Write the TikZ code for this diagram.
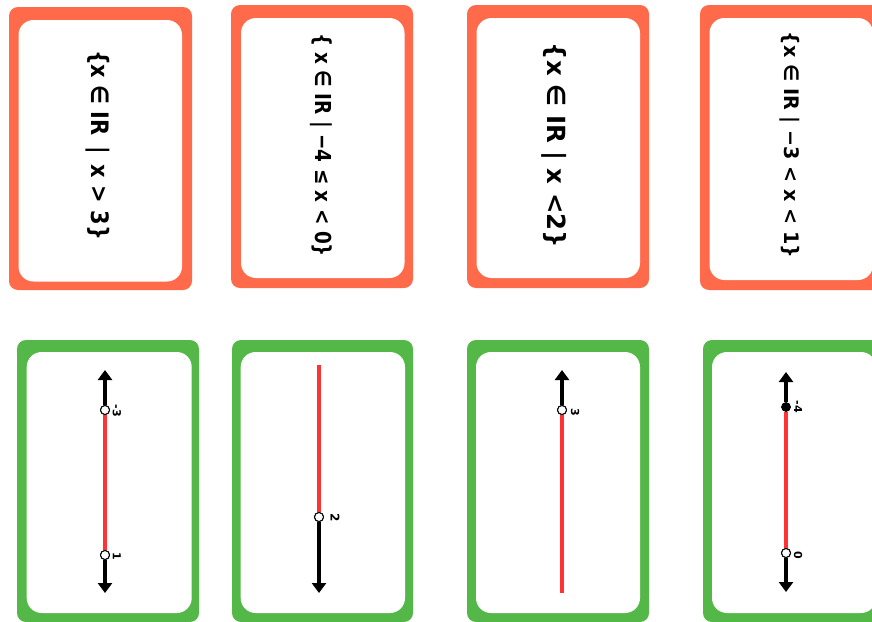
\documentclass[tikz,border=0pt]{standalone}
\usepackage{fontspec}
\setmainfont{DejaVu Sans}
\usepackage{graphicx}
\usetikzlibrary{arrows.meta}
\definecolor{cardorange}{RGB}{255,106,74}
\definecolor{cardgreen}{RGB}{84,184,72}
\definecolor{segred}{RGB}{255,51,51}
\tikzset{
  outerorange/.style={fill=cardorange, rounded corners=9pt},
  outergreen/.style={fill=cardgreen, rounded corners=9pt},
  innerwhite/.style={fill=white, rounded corners=15pt},
  settext/.style={inner sep=0pt, rotate=-90, text=black, font=\bfseries},
  numlab/.style={inner sep=0pt, rotate=-90, font=\bfseries\fontsize{11}{11}\selectfont},
  blackray/.style={draw=black, line width=3.6pt, -{Triangle[width=14pt,length=10pt]}},
  redseg/.style={draw=segred, line width=4.4pt},
  opendot/.style={circle, draw=black, fill=white, line width=1pt, minimum size=9pt, inner sep=0pt},
  filldot/.style={circle, draw=black, fill=black, minimum size=9pt, inner sep=0pt},
}
\begin{document}
\begin{tikzpicture}[x=1pt,y=-1pt]
\useasboundingbox (0,0) rectangle (872,621);
\clip (0,0) rectangle (872,621);
\fill[white] (0,0) rectangle (872,621);

% ---- top cards (sets) ----
\fill[outerorange] (9,7) rectangle (192,290);
\fill[innerwhite] (18.5,20) rectangle (182,281.5);
\fill[outerorange] (231,5) rectangle (413,288);
\fill[innerwhite] (241,18) rectangle (404.5,278);
\fill[outerorange] (467,5) rectangle (649,288);
\fill[innerwhite] (476.5,18) rectangle (640,278);
\fill[outerorange] (700,5) rectangle (882,290);
\fill[innerwhite] (709.5,18) rectangle (873,280);

\node[settext] (t1) at (98,145) {\resizebox*{190pt}{24pt}{\{x ∈ IR \,|\, x > 3\}}};
\node[settext] (t2) at (321,145) {\resizebox*{224pt}{22pt}{\{ x ∈ IR | −4 ≤ x < 0\}}};
\node[settext] (t3) at (554.5,145.5) {\resizebox*{205pt}{25pt}{\{x ∈ IR | x <2\}}};
\node[settext] (t4) at (790,145) {\resizebox*{226pt}{20pt}{\{x ∈ IR | −3 < x < 1\}}};

% ---- bottom cards (number lines) ----
\fill[outergreen] (17,340) rectangle (199,622);
\fill[innerwhite] (26.7,352) rectangle (191.7,613);
\fill[outergreen] (232,340) rectangle (413,622);
\fill[innerwhite] (240.7,352) rectangle (405,613);
\fill[outergreen] (467,340) rectangle (649,622);
\fill[innerwhite] (476,352) rectangle (640,613);
\fill[outergreen] (703,340) rectangle (885,622);
\fill[innerwhite] (712,352) rectangle (876,613);

% card 1: open -3, open 1
\coordinate (a1top) at (105,370);
\coordinate (a1bot) at (105,593);
\node[opendot] (a1p) at (105,410) {};
\node[opendot] (a1q) at (105,555) {};
\draw[blackray] (a1p) -- (a1top);
\draw[blackray] (a1q) -- (a1bot);
\draw[redseg] (a1p) -- (a1q);
\node[opendot] at (a1p) {};
\node[opendot] at (a1q) {};
\node[numlab] (l1a) at (117,411) {-3};
\node[numlab] (l1b) at (117,556) {1};

% card 2: red up to 2, black ray down
\coordinate (a2top) at (319,365);
\coordinate (a2bot) at (319,593);
\node[opendot] (a2p) at (319,517) {};
\draw[blackray] (a2p) -- (a2bot);
\draw[redseg] (a2top) -- (a2p);
\node[opendot] at (a2p) {};
\node[numlab, font=\bfseries\fontsize{12}{12}\selectfont] (l2) at (335,518) {2};

% card 3: black ray up from 3, red down
\coordinate (a3top) at (562,370);
\coordinate (a3bot) at (562,593);
\node[opendot] (a3p) at (562,410) {};
\draw[blackray] (a3p) -- (a3top);
\draw[redseg] (a3p) -- (a3bot);
\node[opendot] at (a3p) {};
\node[numlab] (l3) at (575,412) {3};

% card 4: filled -4, open 0
\coordinate (a4top) at (786,372);
\coordinate (a4bot) at (786,592);
\node[filldot] (a4p) at (786,407) {};
\node[opendot] (a4q) at (786,553) {};
\draw[blackray] (a4p) -- (a4top);
\draw[blackray] (a4q) -- (a4bot);
\draw[redseg] (a4p) -- (a4q);
\node[filldot] at (a4p) {};
\node[opendot] at (a4q) {};
\node[numlab] (l4a) at (798,407) {-4};
\node[numlab] (l4b) at (798,555) {0};
\end{tikzpicture}
\end{document}
